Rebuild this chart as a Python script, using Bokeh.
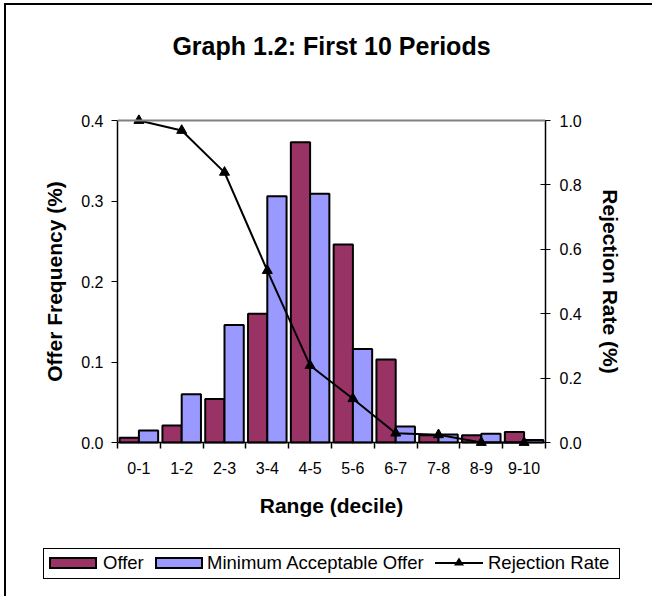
from bokeh.plotting import figure
from bokeh.layouts import column
from bokeh.models import (Range1d, LinearAxis, FixedTicker, Span, Div,
                          NumeralTickFormatter, ColumnDataSource)
from bokeh.embed import file_html
from bokeh.resources import INLINE

categories = ["0-1", "1-2", "2-3", "3-4", "4-5", "5-6", "6-7", "7-8", "8-9", "9-10"]
offer = [0.006, 0.021, 0.054, 0.160, 0.373, 0.246, 0.103, 0.009, 0.009, 0.013]
min_acceptable = [0.015, 0.060, 0.146, 0.306, 0.309, 0.116, 0.020, 0.010, 0.011, 0.003]
rejection_rate = [1.0, 0.969, 0.839, 0.534, 0.239, 0.136, 0.029, 0.024, 0.0, 0.0]
left_ticks = [0.0, 0.1, 0.2, 0.3, 0.4]
right_ticks = [0.0, 0.2, 0.4, 0.6, 0.8, 1.0]
series_names = ["Offer", "Minimum Acceptable Offer", "Rejection Rate"]
title_text = "Graph 1.2: First 10 Periods"

FONT = "Liberation Sans"
OFFER_COLOR = "#993366"
MAO_COLOR = "#9999FF"
idx = list(range(len(categories)))
src = ColumnDataSource(dict(
    cat=categories,
    center=[i + 0.5 for i in idx],
    x_offer=[i + 0.275 for i in idx],
    x_mao=[i + 0.725 for i in idx],
    offer=offer, mao=min_acceptable, rej=rejection_rate))

# data span is 428 x 322 px, padded a few px so markers on the edges aren't clipped
PLOT_H = 322
PAD = 6
lmax, rmax = left_ticks[-1], right_ticks[-1]
lpad = PAD * lmax / PLOT_H
rpad = PAD * rmax / PLOT_H

p = figure(frame_width=428, frame_height=PLOT_H + 2 * PAD,
           x_range=Range1d(0, len(categories)), y_range=Range1d(-lpad, lmax + lpad),
           output_backend="svg", toolbar_location=None,
           min_border_left=111, min_border_right=107,
           min_border_top=115 - PAD, min_border_bottom=80)
p.outline_line_color = None
p.grid.visible = False
p.background_fill_color = "white"
p.border_fill_color = "white"

p.extra_y_ranges = {"rej": Range1d(-rpad, rmax + rpad)}

bar_style = dict(width=0.45, line_color="black", line_width=2)
p.vbar(x="x_offer", top="offer", source=src, fill_color=OFFER_COLOR, **bar_style)
p.vbar(x="x_mao", top="mao", source=src, fill_color=MAO_COLOR, **bar_style)
p.line(x="center", y="rej", source=src, y_range_name="rej", line_color="black", line_width=2)
p.scatter(x="center", y="rej", source=src, y_range_name="rej",
          marker="triangle", size=10, fill_color="black", line_color="black")

p.add_layout(Span(location=lmax, dimension="width", line_color="#808080", line_width=2))
p.add_layout(Span(location=0, dimension="width", line_color="black", line_width=1.5))

# x axis (its line is the span at 0; category boundary ticks reach down from 0)
xa = p.below[0]
xa.ticker = FixedTicker(ticks=[i + 0.5 for i in idx], minor_ticks=list(range(len(categories) + 1)))
xa.major_label_overrides = {i + 0.5: c for i, c in zip(idx, categories)}
xa.axis_line_color = None
xa.major_tick_line_color = None
xa.major_tick_out = 0
xa.major_tick_in = 0
xa.minor_tick_line_color = "black"
xa.minor_tick_line_width = 1.5
xa.minor_tick_out = 0
xa.minor_tick_in = PAD
xa.major_label_text_font = FONT
xa.major_label_text_font_size = "16px"
xa.major_label_text_color = "black"
xa.major_label_standoff = 13
xa.axis_label = "Range (decile)"
xa.axis_label_text_font = FONT
xa.axis_label_text_font_size = "21px"
xa.axis_label_text_font_style = "bold"
xa.axis_label_text_color = "black"
xa.axis_label_standoff = 17

# left axis
ya = p.left[0]
ya.bounds = (0, lmax)
ya.ticker = FixedTicker(ticks=left_ticks)
ya.formatter = NumeralTickFormatter(format="0.0")
ya.minor_tick_line_color = None
ya.major_tick_out = 6
ya.major_tick_in = 0
ya.axis_line_color = "black"
ya.axis_line_width = 1.5
ya.major_label_text_font = FONT
ya.major_label_text_font_size = "16px"
ya.major_label_text_color = "black"
ya.major_label_standoff = 8
ya.axis_label = "Offer Frequency (%)"
ya.axis_label_text_font = FONT
ya.axis_label_text_font_size = "21px"
ya.axis_label_text_font_style = "bold"
ya.axis_label_text_color = "black"
ya.axis_label_standoff = 12

ra = LinearAxis(y_range_name="rej", ticker=FixedTicker(ticks=right_ticks),
                formatter=NumeralTickFormatter(format="0.0"), bounds=(0, rmax))
ra.minor_tick_line_color = None
ra.major_tick_out = 5
ra.major_tick_in = 5
ra.axis_line_color = "black"
ra.axis_line_width = 1.5
ra.major_label_text_font = FONT
ra.major_label_text_font_size = "16px"
ra.major_label_text_color = "black"
ra.major_label_standoff = 9
ra.axis_label = "Rejection Rate (%)"
ra.axis_label_text_font = FONT
ra.axis_label_text_font_size = "21px"
ra.axis_label_text_font_style = "bold"
ra.axis_label_text_color = "black"
ra.axis_label_standoff = 14
p.add_layout(ra, "right")

# title drawn as the label of an empty axis above the plot
ta = LinearAxis(ticker=FixedTicker(ticks=[]), axis_line_color=None,
                major_tick_line_color=None, minor_tick_line_color=None,
                major_tick_out=0, major_tick_in=0, minor_tick_out=0, minor_tick_in=0,
                major_label_standoff=0, major_label_text_font_size="0px")
ta.axis_label = title_text
ta.axis_label_text_font = FONT
ta.axis_label_text_font_size = "25px"
ta.axis_label_text_font_style = "bold"
ta.axis_label_text_color = "black"
ta.axis_label_standoff = 55
p.add_layout(ta, "above")

# legend strip under the chart
def swatch(left, color):
    return (f'<div style="position:absolute;left:{left}px;top:8px;width:48px;height:12px;'
            f'box-sizing:border-box;border:2px solid black;background:{color};"></div>')

def label(left, text):
    return (f'<div style="position:absolute;left:{left}px;top:3px;line-height:22px;'
            f'white-space:nowrap;">{text}</div>')

line_glyph = ('<svg style="position:absolute;left:391px;top:4px" width="48" height="20">'
              '<line x1="0" y1="10" x2="48" y2="10" stroke="black" stroke-width="2"/>'
              '<polygon points="24,4.5 29,12.5 19,12.5" fill="black"/></svg>')

legend_html = (
    f'<div style="position:relative;width:646px;height:68px;font-family:\'{FONT}\',Arial,sans-serif;'
    f'font-size:18.5px;color:black;">'
    f'<div style="position:absolute;left:37px;top:20px;width:577px;height:31px;'
    f'border:1px solid black;box-sizing:border-box;background:white;">'
    + swatch(5, OFFER_COLOR) + label(59, series_names[0])
    + swatch(111, MAO_COLOR) + label(163, series_names[1])
    + line_glyph + label(444, series_names[2])
    + '</div></div>')

legend_div = Div(text=legend_html, width=646, height=68, margin=0)

layout = column(p, legend_div, spacing=0,
                styles={"border-left": "2px solid black", "border-top": "2px solid black",
                        "margin-left": "4px", "margin-top": "3px"})

open("out.html", "w").write(file_html(layout, INLINE))
